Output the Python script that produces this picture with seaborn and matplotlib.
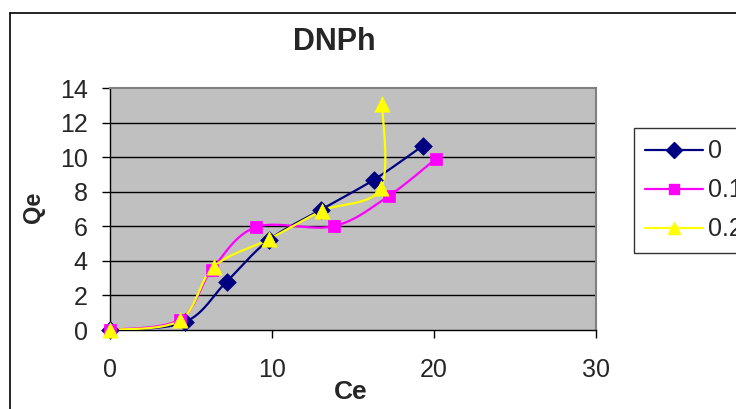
import numpy as np
import pandas as pd
import matplotlib
matplotlib.use("Agg")
import matplotlib.pyplot as plt
from matplotlib.lines import Line2D
import seaborn as sns

# Adsorption data: Ce (x) vs Qe (y) for three series
series_names = ["0", "0.1", "0.2"]
ce_0 = [0.0, 4.6, 7.2, 9.8, 13.0, 16.3, 19.3]
qe_0 = [0.0, 0.45, 2.8, 5.2, 6.95, 8.7, 10.65]
ce_01 = [0.0, 4.3, 6.3, 9.0, 13.8, 17.2, 20.1]
qe_01 = [0.0, 0.6, 3.5, 5.95, 6.0, 7.75, 9.9]
ce_02 = [0.0, 4.3, 6.4, 9.8, 13.1, 16.7, 16.8]
qe_02 = [0.0, 0.55, 3.65, 5.25, 6.9, 8.2, 13.1]

x_ticks = [0, 10, 20, 30]
y_ticks = [0, 2, 4, 6, 8, 10, 12, 14]

colors = ["#000080", "#FF00FF", "#FFFF00"]
markers = ["D", "s", "^"]
msizes = [9, 9, 11]


def smooth(xs, ys, n=30):
    """Cubic Bezier smoothing through every point (Catmull-Rom style)."""
    p = np.column_stack([xs, ys]).astype(float)
    ext = np.vstack([p[0], p, p[-1]])
    out = []
    t = np.linspace(0, 1, n)[:, None]
    for i in range(len(p) - 1):
        p0, p1, p2, p3 = ext[i], ext[i + 1], ext[i + 2], ext[i + 3]
        c1 = p1 + (p2 - p0) / 6.0
        c2 = p2 - (p3 - p1) / 6.0
        seg = ((1 - t) ** 3) * p1 + 3 * ((1 - t) ** 2) * t * c1 + 3 * (1 - t) * t ** 2 * c2 + t ** 3 * p2
        out.append(seg if i == 0 else seg[1:])
    seg = np.vstack(out)
    return seg[:, 0], seg[:, 1]


sns.set_style("white")
plt.rcParams["font.family"] = ["Liberation Sans", "DejaVu Sans"]

W, H = 736, 409
fig = plt.figure(figsize=(W / 100, H / 100), dpi=100)
fig.patch.set_facecolor("white")

# chart frame (left and top edges visible)
fig.add_artist(Line2D([10 / W, 10 / W], [0, 1 - 13 / H], color="black", lw=1.2, transform=fig.transFigure))
fig.add_artist(Line2D([10 / W, 1], [1 - 13 / H, 1 - 13 / H], color="black", lw=1.2, transform=fig.transFigure))

ax = fig.add_axes([110 / W, 1 - 330 / H, 486 / W, 242 / H])
ax.set_facecolor("#C0C0C0")

ax.hlines(y_ticks[1:-1], 0, 30, color="black", lw=1.0, zorder=1)

data = [(ce_0, qe_0), (ce_01, qe_01), (ce_02, qe_02)]
handles = []
for (xs, ys), name, c, m, ms in zip(data, series_names, colors, markers, msizes):
    sx, sy = smooth(xs, ys)
    curve = pd.DataFrame({"Ce": sx, "Qe": sy})
    sns.lineplot(data=curve, x="Ce", y="Qe", sort=False, estimator=None, color=c, lw=1.6, ax=ax, zorder=3)
    pts = pd.DataFrame({"Ce": xs, "Qe": ys})
    sns.scatterplot(data=pts, x="Ce", y="Qe", marker=m, s=ms ** 2, color=c, edgecolor=c, linewidth=0.5,
                    ax=ax, zorder=4, clip_on=False)
    handles.append(Line2D([], [], color=c, lw=1.6, marker=m, markersize=ms * 0.85, markerfacecolor=c, markeredgecolor=c))

ax.set_xlim(0, 30)
ax.set_ylim(0, 14)
ax.set_xticks(x_ticks)
ax.set_yticks(y_ticks)
ax.set_xticklabels([str(v) for v in x_ticks], fontsize=18)
ax.set_yticklabels([str(v) for v in y_ticks], fontsize=18)
ax.tick_params(axis="x", direction="out", length=6, width=1, color="black", pad=14, bottom=True)
ax.tick_params(axis="y", direction="out", length=6, width=1, color="black", pad=10, left=True)
ax.set_xlabel("")
ax.set_ylabel("")

for side in ["left", "bottom"]:
    ax.spines[side].set_color("black")
    ax.spines[side].set_linewidth(1.0)
for side in ["top", "right"]:
    ax.spines[side].set_color("#808080")
    ax.spines[side].set_linewidth(1.5)

fig.text(334 / W, 1 - 42 / H, "DNPh", ha="center", va="center", fontsize=22, fontweight="bold")
fig.text(351 / W, 1 - 392 / H, "Ce", ha="center", va="center", fontsize=19, fontweight="bold")
fig.text(34 / W, 1 - 207 / H, "Qe", ha="center", va="center", rotation=90, fontsize=17, fontweight="bold")

leg = fig.legend(handles, series_names, loc="upper left", bbox_to_anchor=(634 / W, 1 - 128 / H),
                 bbox_transform=fig.transFigure, fontsize=18, frameon=True, fancybox=False,
                 handlelength=2.3, handletextpad=0.2, borderpad=0.45, labelspacing=0.6,
                 borderaxespad=0)
leg.get_frame().set_edgecolor("black")
leg.get_frame().set_linewidth(1.0)
leg.get_frame().set_facecolor("white")

fig.savefig("out.png", dpi=100)
